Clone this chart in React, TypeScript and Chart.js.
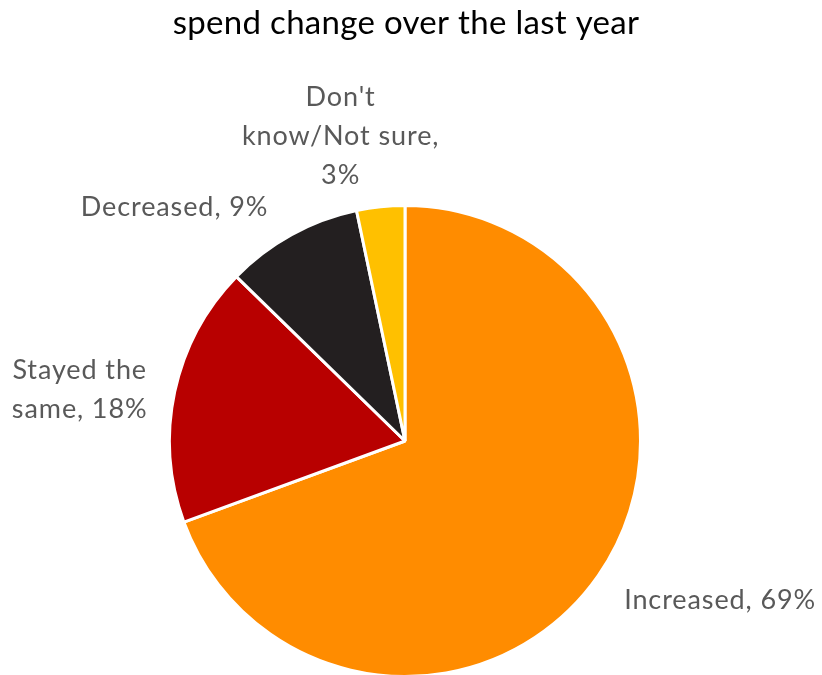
import React, { useEffect, useRef } from "react";
import { Chart, registerables } from "chart.js";

Chart.register(...registerables);

const TITLE = "spend change over the last year";
const categories = ["Increased", "Stayed the same", "Decreased", "Don't know/Not sure"];
const values = [69.4, 17.9, 9.4, 3.3];
const shownPercents = ["69%", "18%", "9%", "3%"];
const labelLines = [
  ["Increased, 69%"],
  ["Stayed the", "same, 18%"],
  ["Decreased, 9%"],
  ["Don't", "know/Not sure,", "3%"],
];
const colors = ["#FF8C00", "#B80000", "#231F20", "#FFC000"];
// label offsets from the arc's outer-edge midpoint
const labelOffsets = [
  [122, 24],
  [-95, -2],
  [-117, -27],
  [-40, -70],
];

const FONT = "Lato, 'Open Sans', sans-serif";

const labelPlugin = {
  id: "pieLabels",
  afterDraw(chart: any) {
    const ctx = chart.ctx;
    ctx.save();
    ctx.fillStyle = "#000000";
    ctx.font = `33px ${FONT}`;
    (ctx as any).letterSpacing = "0.3px";
    ctx.textAlign = "center";
    ctx.textBaseline = "middle";
    ctx.fillText(TITLE, 406, 23);

    const meta = chart.getDatasetMeta(0);
    ctx.fillStyle = "#595959";
    ctx.font = `27px ${FONT}`;
    (ctx as any).letterSpacing = "0.9px";
    const lh = 39;
    meta.data.forEach((arc: any, i: number) => {
      const { x, y, startAngle, endAngle, outerRadius } = arc.getProps(
        ["x", "y", "startAngle", "endAngle", "outerRadius"],
        true
      );
      const mid = (startAngle + endAngle) / 2;
      const ex = x + Math.cos(mid) * outerRadius;
      const ey = y + Math.sin(mid) * outerRadius;
      const cx = ex + labelOffsets[i][0];
      const cy = ey + labelOffsets[i][1];
      const lines = labelLines[i];
      const top = cy - ((lines.length - 1) * lh) / 2;
      lines.forEach((ln, k) => ctx.fillText(ln, cx, top + k * lh));
    });
    ctx.restore();
  },
};

export default function App() {
  const ref = useRef<HTMLCanvasElement>(null);
  useEffect(() => {
    if (!ref.current) return;
    const chart = new Chart(ref.current, {
      type: "pie",
      data: {
        labels: categories.map((c, i) => `${c}, ${shownPercents[i]}`),
        datasets: [
          {
            data: values,
            backgroundColor: colors,
            borderColor: "#ffffff",
            borderWidth: 3,
          },
        ],
      },
      options: {
        animation: false,
        responsive: false,
        maintainAspectRatio: false,
        layout: { padding: { left: 168, right: 180, top: 204, bottom: 0 } },
        plugins: {
          legend: { display: false },
          tooltip: { enabled: false },
          title: { display: false },
        },
      },
      plugins: [labelPlugin],
    });
    return () => chart.destroy();
  }, []);
  return (
    <div style={{ position: "absolute", left: 0, top: 0, width: 822, height: 675, overflow: "hidden", background: "#fff" }}>
      <canvas ref={ref} width={822} height={678} style={{ display: "block" }} />
    </div>
  );
}
